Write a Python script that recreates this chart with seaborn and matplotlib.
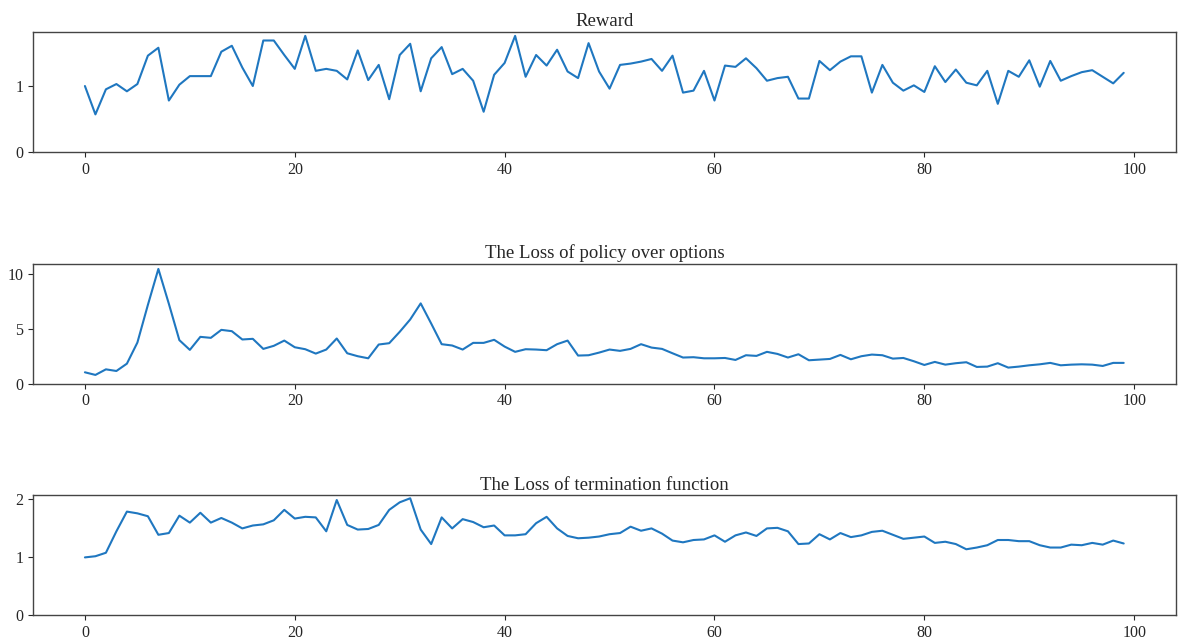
# Three training curves: reward, option-policy loss, termination loss
import numpy as np
import matplotlib
matplotlib.use("Agg")
import matplotlib.pyplot as plt
import seaborn as sns

# --------------------------------------------------
# Data
# --------------------------------------------------
reward = [
    1.00, 0.57, 0.95, 1.03, 0.92, 1.03, 1.46, 1.58, 0.78, 1.02,
    1.15, 1.15, 1.15, 1.52, 1.61, 1.28, 1.00, 1.69, 1.69, 1.47,
    1.26, 1.76, 1.23, 1.26, 1.23, 1.10, 1.54, 1.09, 1.32, 0.80,
    1.47, 1.64, 0.92, 1.42, 1.59, 1.18, 1.26, 1.08, 0.61, 1.17,
    1.35, 1.76, 1.14, 1.47, 1.31, 1.55, 1.22, 1.12, 1.65, 1.22,
    0.96, 1.32, 1.34, 1.37, 1.41, 1.23, 1.46, 0.90, 0.93, 1.23,
    0.78, 1.31, 1.29, 1.42, 1.27, 1.08, 1.12, 1.14, 0.81, 0.81,
    1.38, 1.24, 1.37, 1.45, 1.45, 0.90, 1.32, 1.05, 0.93, 1.01,
    0.91, 1.30, 1.06, 1.25, 1.05, 1.01, 1.23, 0.73, 1.23, 1.14,
    1.39, 0.99, 1.38, 1.08, 1.15, 1.21, 1.24, 1.14, 1.04, 1.20,
]

policy_loss = [
    1.04, 0.80, 1.31, 1.16, 1.83, 3.76, 7.20, 10.49, 7.30, 3.98,
    3.09, 4.28, 4.19, 4.92, 4.80, 4.04, 4.10, 3.18, 3.46, 3.94,
    3.33, 3.15, 2.75, 3.12, 4.13, 2.78, 2.51, 2.32, 3.58, 3.70,
    4.74, 5.87, 7.34, 5.50, 3.61, 3.49, 3.12, 3.73, 3.73, 4.01,
    3.39, 2.91, 3.15, 3.12, 3.06, 3.61, 3.94, 2.57, 2.60, 2.84,
    3.12, 3.00, 3.18, 3.61, 3.30, 3.18, 2.78, 2.39, 2.42, 2.32,
    2.32, 2.35, 2.17, 2.60, 2.54, 2.91, 2.72, 2.39, 2.69, 2.14,
    2.20, 2.26, 2.63, 2.23, 2.51, 2.66, 2.60, 2.29, 2.35, 2.05,
    1.71, 1.99, 1.74, 1.87, 1.96, 1.53, 1.56, 1.87, 1.47, 1.56,
    1.68, 1.77, 1.90, 1.68, 1.74, 1.77, 1.74, 1.62, 1.90, 1.90,
]

termination_loss = [
    1.00, 1.02, 1.08, 1.45, 1.79, 1.76, 1.71, 1.39, 1.42, 1.72,
    1.60, 1.77, 1.60, 1.68, 1.60, 1.50, 1.55, 1.57, 1.64, 1.82,
    1.67, 1.70, 1.69, 1.45, 1.99, 1.56, 1.48, 1.49, 1.56, 1.82,
    1.95, 2.02, 1.48, 1.23, 1.69, 1.50, 1.66, 1.61, 1.52, 1.55,
    1.38, 1.38, 1.40, 1.59, 1.70, 1.50, 1.37, 1.33, 1.34, 1.36,
    1.40, 1.42, 1.53, 1.46, 1.50, 1.41, 1.29, 1.26, 1.30, 1.31,
    1.38, 1.27, 1.38, 1.43, 1.37, 1.50, 1.51, 1.45, 1.23, 1.24,
    1.40, 1.31, 1.42, 1.35, 1.38, 1.44, 1.46, 1.39, 1.32, 1.34,
    1.36, 1.25, 1.27, 1.23, 1.14, 1.17, 1.21, 1.30, 1.30, 1.28,
    1.28, 1.21, 1.17, 1.17, 1.22, 1.21, 1.25, 1.22, 1.29, 1.24,
]

titles = ["Reward", "The Loss of policy over options", "The Loss of termination function"]
steps = np.arange(len(reward))

# --------------------------------------------------
# Style
# --------------------------------------------------
sns.set_style("ticks")
plt.rcParams["font.family"] = ["Liberation Serif", "DejaVu Serif"]
plt.rcParams["xtick.labelsize"] = 11.5
plt.rcParams["ytick.labelsize"] = 11.5

fig, axes = plt.subplots(3, 1, figsize=(11.78, 6.39), dpi=100)
fig.subplots_adjust(left=0.028, right=0.998, top=0.95, bottom=0.037, hspace=0.93)

for ax, series, title in zip(axes, [reward, policy_loss, termination_loss], titles):
    sns.lineplot(x=steps, y=series, ax=ax, color="#1f77c0", linewidth=1.5)
    ax.set_ylim(bottom=0)
    ax.set_xticks([0, 20, 40, 60, 80, 100])
    ax.set_title(title, fontsize=13.5, pad=4)
    for side in ["top", "right", "left", "bottom"]:
        ax.spines[side].set_color("#444444")
        ax.spines[side].set_linewidth(1.0)

axes[0].set_yticks([0, 1])
axes[1].set_yticks([0, 5, 10])
axes[2].set_yticks([0, 1, 2])

plt.savefig("out.png", dpi=100)
